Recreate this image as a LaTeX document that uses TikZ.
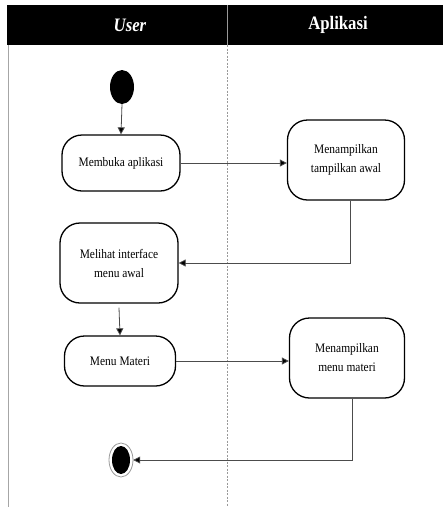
\documentclass[tikz,border=0pt]{standalone}
\usepackage{fontspec}
\setmainfont{Liberation Serif}
\newfontfamily\narrowfont{Liberation Serif}[FakeStretch=0.88]
\usetikzlibrary{arrows.meta}

\tikzset{
  activity/.style={draw, line width=1.3pt, rounded corners=20pt, align=center,
    font=\narrowfont\fontsize{13}{19}\selectfont, inner sep=0pt},
  flow/.style={draw=black!70, line width=0.8pt, -{Triangle[length=7pt,width=7pt,fill=black]}},
  lane/.style={font=\narrowfont\bfseries\fontsize{19}{22}\selectfont, text=white}
}

\begin{document}
\begin{tikzpicture}[x=1pt,y=-1pt]
\useasboundingbox (0,0) rectangle (443,507);
\fill[white] (0,0) rectangle (443,507);
% swimlanes
\fill[black] (7,5) rectangle (443,45);
\draw[black!40, line width=0.6pt] (227,5) -- (227,45);
\draw[black!40, line width=0.6pt, dash pattern=on 2pt off 1.5pt] (227,45) -- (227,507);
\draw[black!35, line width=1pt] (8,45) -- (8,507);
\node[lane] (laneuser) at (130,25) {\itshape User};
\node[lane] (laneapp) at (338,25) {Aplikasi};
% activities
\fill (122,87) ellipse (12 and 17);
\node[minimum width=24pt, minimum height=34pt, inner sep=0pt] (start) at (122,87) {};
\node[activity, minimum width=118pt, minimum height=56pt] (membuka) at (121,163) {Membuka aplikasi};
\node[activity, minimum width=117pt, minimum height=80pt] (tampilawal) at (346,160) {Menampilkan\\tampilkan awal};
\node[activity, minimum width=118pt, minimum height=80pt] (melihat) at (119,263) {Melihat interface\\menu awal};
\node[activity, minimum width=111pt, minimum height=50pt] (menumateri) at (120,361) {Menu Materi};
\node[activity, minimum width=115pt, minimum height=80pt] (tampilmateri) at (347,358) {Menampilkan\\menu materi};
\draw[black!40, line width=0.8pt] (121,460) ellipse (12 and 17);
\fill (121,460) ellipse (9 and 14);
\node[minimum width=24pt, minimum height=34pt, inner sep=0pt] (end) at (121,460) {};
% flows
\draw[flow] (start.south) -- (membuka.north);
\draw[flow] (membuka.east) -- (tampilawal.west |- membuka.east);
\draw[flow] ([xshift=4pt]tampilawal.south) |- (melihat.east);
\draw[flow] ([yshift=-4pt]melihat.south) -- (menumateri.north);
\draw[flow] (menumateri.east) -- (tampilmateri.west |- menumateri.east);
\draw[flow] ([xshift=5pt]tampilmateri.south) |- (end.east);
\end{tikzpicture}
\end{document}
